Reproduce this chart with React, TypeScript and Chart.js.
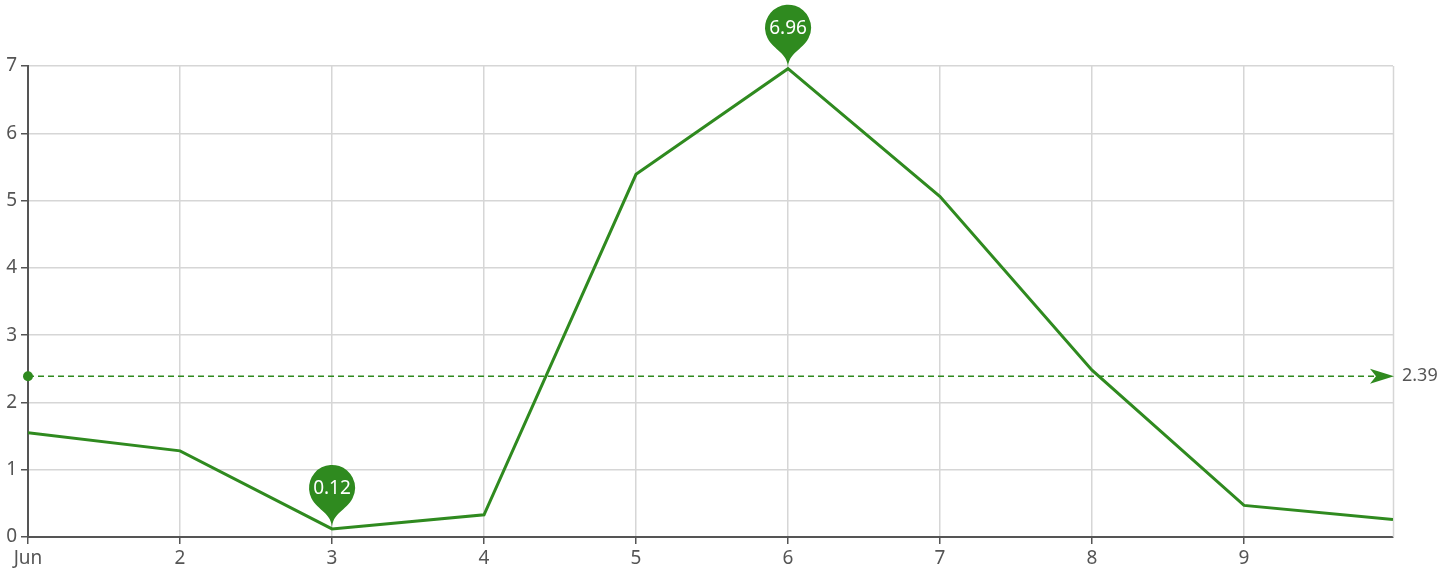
import React, { useEffect, useRef } from "react";
import { Chart, registerables } from "chart.js";
Chart.register(...registerables);

const tickDays = [1, 2, 3, 4, 5, 6, 7, 8, 9];
const tickLabels = ["Jun", "2", "3", "4", "5", "6", "7", "8", "9"];
const pointDays = [1, 2, 3, 4, 5, 6, 7, 8, 9, 9.98];
const values = [1.55, 1.28, 0.12, 0.33, 5.39, 6.96, 5.06, 2.48, 0.47, 0.26];
const yTicks = [0, 1, 2, 3, 4, 5, 6, 7];

const GREEN = "#2f8a1f";
const TEXT = "#555";
const GRID = "#d6d6d6";
const AXIS = "#555";
const FONT = "'Noto Sans', sans-serif";

function drawPin(ctx: CanvasRenderingContext2D, x: number, tipY: number, r: number, D: number, label: string) {
  const k = (D + Math.sqrt(D * D + 4 * r * r)) / 2;
  const dy = (r * r) / k;
  const cy = tipY - D;
  const angle = Math.asin(dy / r);
  const dx = Math.cos(angle) * r;
  const tanX = Math.sin(angle);
  const tanY = Math.cos(angle);
  const cpLen = r * 0.6;
  const cpLen2 = r * 0.7;
  ctx.save();
  ctx.beginPath();
  ctx.moveTo(x - dx, cy + dy);
  ctx.arc(x, cy, r, Math.PI - angle, Math.PI * 2 + angle);
  ctx.bezierCurveTo(x + dx - tanX * cpLen, cy + dy + tanY * cpLen, x, tipY - cpLen2, x, tipY);
  ctx.bezierCurveTo(x, tipY - cpLen2, x - dx + tanX * cpLen, cy + dy + tanY * cpLen, x - dx, cy + dy);
  ctx.closePath();
  ctx.fillStyle = GREEN;
  ctx.fill();
  ctx.fillStyle = "#fff";
  ctx.font = `19px ${FONT}`;
  ctx.textAlign = "center";
  ctx.textBaseline = "middle";
  ctx.fillText(label, x, cy + 1);
  ctx.restore();
}

const overlayPlugin = {
  id: "overlay",
  beforeDatasetsDraw(chart: any) {
    const { ctx, chartArea } = chart;
    ctx.save();
    ctx.strokeStyle = GRID;
    ctx.lineWidth = 1.5;
    ctx.beginPath();
    ctx.moveTo(chartArea.right + 0.5, chartArea.top);
    ctx.lineTo(chartArea.right + 0.5, chartArea.bottom);
    ctx.stroke();
    ctx.restore();
  },
  afterDraw(chart: any) {
    const { ctx, chartArea, scales } = chart;
    const xs = scales.x;
    const ys = scales.y;
    const mean = values.reduce((a, b) => a + b, 0) / values.length;
    const my = ys.getPixelForValue(mean);
    const x0 = chartArea.left;
    const x1 = chartArea.right;
    ctx.save();
    ctx.strokeStyle = GREEN;
    ctx.lineWidth = 1.5;
    ctx.setLineDash([6, 4]);
    ctx.beginPath();
    ctx.moveTo(x0, my);
    ctx.lineTo(x1 - 16, my);
    ctx.stroke();
    ctx.setLineDash([]);
    ctx.fillStyle = GREEN;
    ctx.beginPath();
    ctx.arc(x0, my, 5, 0, Math.PI * 2);
    ctx.fill();
    ctx.beginPath();
    ctx.moveTo(x1 + 1, my);
    ctx.lineTo(x1 - 23, my - 7.5);
    ctx.lineTo(x1 - 17, my);
    ctx.lineTo(x1 - 23, my + 7.5);
    ctx.closePath();
    ctx.fill();
    ctx.fillStyle = TEXT;
    ctx.font = `18px ${FONT}`;
    ctx.textAlign = "left";
    ctx.textBaseline = "middle";
    ctx.fillText(mean.toFixed(2), x1 + 9, my);
    ctx.restore();
    let maxI = 0;
    let minI = 0;
    values.forEach((v, i) => {
      if (v > values[maxI]) maxI = i;
      if (v < values[minI]) minI = i;
    });
    [maxI, minI].forEach((i) => {
      const px = xs.getPixelForValue(pointDays[i]);
      const py = ys.getPixelForValue(values[i]);
      drawPin(ctx, px, py, 23, 41, values[i].toFixed(2));
    });
  },
};

export default function App() {
  const ref = useRef<HTMLCanvasElement | null>(null);
  useEffect(() => {
    if (!ref.current) return;
    const chart = new Chart(ref.current, {
      type: "line",
      data: {
        datasets: [
          {
            data: pointDays.map((d, i) => ({ x: d, y: values[i] })),
            borderColor: GREEN,
            borderWidth: 3,
            pointRadius: 0,
            tension: 0,
            fill: false,
          },
        ],
      },
      options: {
        animation: false,
        responsive: false,
        devicePixelRatio: 1,
        layout: { padding: { left: 0, right: 63, top: 66, bottom: 0 } },
        plugins: { legend: { display: false }, tooltip: { enabled: false } },
        scales: {
          x: {
            type: "linear",
            min: pointDays[0],
            max: pointDays[pointDays.length - 1],
            afterBuildTicks: (scale: any) => {
              scale.ticks = tickDays.map((v) => ({ value: v }));
            },
            afterFit: (scale: any) => {
              scale.height = 34;
            },
            ticks: {
              autoSkip: false,
              maxRotation: 0,
              color: TEXT,
              font: { family: FONT, size: 19 },
              padding: 3,
              callback: (v: any) => {
                const idx = tickDays.indexOf(Number(v));
                return idx >= 0 ? tickLabels[idx] : "";
              },
            },
            grid: { color: GRID, lineWidth: 1.5, tickColor: AXIS, tickLength: 7, tickWidth: 1.5 },
            border: { color: AXIS, width: 2 },
          },
          y: {
            min: yTicks[0],
            max: yTicks[yTicks.length - 1],
            afterBuildTicks: (scale: any) => {
              scale.ticks = yTicks.map((v) => ({ value: v }));
            },
            afterFit: (scale: any) => {
              scale.width = 28;
            },
            ticks: {
              color: TEXT,
              font: { family: FONT, size: 19 },
              padding: 4,
            },
            grid: { color: GRID, lineWidth: 1.5, tickColor: AXIS, tickLength: 7, tickWidth: 1.5 },
            border: { color: AXIS, width: 2 },
          },
        },
      },
      plugins: [overlayPlugin],
    } as any);
    return () => chart.destroy();
  }, []);
  return (
    <div style={{ position: "fixed", left: 0, top: 0, width: 1456, height: 571, background: "#fff" }}>
      <canvas ref={ref} width={1456} height={571} style={{ width: 1456, height: 571, display: "block" }} />
    </div>
  );
}
